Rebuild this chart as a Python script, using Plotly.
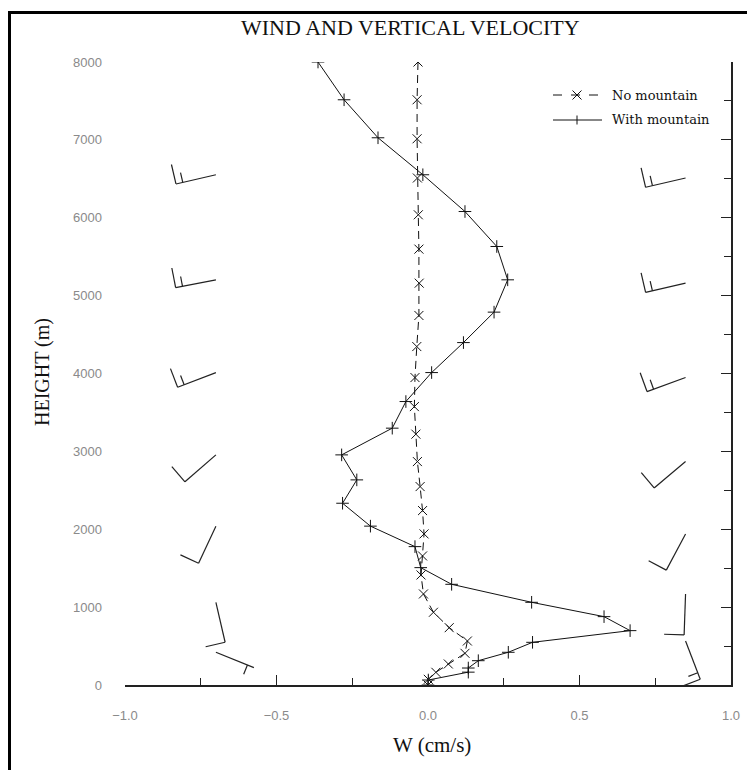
import math
import plotly.graph_objects as go

# ---------------- data ----------------
# With mountain: vertical velocity W (cm/s) vs height (m)
wm_height = [8000, 7515, 7027, 6552, 6080, 5631, 5203, 4788, 4397, 4012, 3640, 3298,
             2955, 2634, 2334, 2040, 1777, 1507, 1293, 1062, 878, 698, 548, 420, 312,
             218, 165, 64, 0]
wm_w = [-0.363, -0.277, -0.165, -0.017, 0.122, 0.227, 0.263, 0.218, 0.117, 0.012, -0.073, -0.118,
        -0.285, -0.235, -0.282, -0.190, -0.043, -0.024, 0.078, 0.342, 0.581, 0.667, 0.345, 0.265, 0.166,
        0.133, 0.133, 0.001, 0.0]

# No mountain
nm_height = [8000, 7515, 7014, 6510, 6038, 5597, 5160, 4745, 4346, 3948, 3575, 3221,
             2869, 2548, 2240, 1940, 1657, 1413, 1169, 934, 736, 565, 407, 270, 163, 73, 0]
nm_w = [-0.033, -0.036, -0.036, -0.035, -0.032, -0.030, -0.029, -0.030, -0.037, -0.043, -0.045, -0.040,
        -0.035, -0.026, -0.018, -0.013, -0.018, -0.023, -0.015, 0.018, 0.070, 0.130, 0.122, 0.067,
        0.026, 0.001, 0.0]

# Wind barbs (direction in degrees the wind blows from, speed in knots)
left_barb_height = [6552, 5203, 4012, 2955, 2040, 1062, 420]
left_barb_dir = [257, 259, 249, 229, 205, 167, 112]
left_barb_speed = [15, 15, 15, 10, 10, 10, 5]

right_barb_height = [6510, 5160, 3948, 2869, 1940, 1169, 565]
right_barb_dir = [257, 257, 250, 230, 208, 182, 159]
right_barb_speed = [15, 15, 15, 10, 10, 10, 15]

x_ticks = [-1.0, -0.5, 0.0, 0.5, 1.0]
y_ticks = [0, 1000, 2000, 3000, 4000, 5000, 6000, 7000, 8000]

legend_names = ["No mountain", "With mountain"]

# ---------------- layout geometry ----------------
W, H = 755, 770
OFF = 8                      # page body margin
ML, MR, MT, MB = 117, 32, 54, 93
PW, PH = W - ML - MR, H - MT - MB
XR = (-1.0, 1.0)
YR = (0, 8000)
PX_X = PW / (XR[1] - XR[0])   # px per unit of W
PX_Y = PH / (YR[1] - YR[0])   # px per metre


def pxp(xpage):
    return (xpage - OFF - ML) / PW


def pyp(ypage):
    return (H - MB - (ypage - OFF)) / PH


SHAFT, FULL, HALF, SPACING = 41, 20, 10, 7


def barb_segments(x0, y0, d, s):
    """Return x,y lists (with None separators) for a wind barb, built in pixel space."""
    r = math.radians(d)
    ux, uy = math.sin(r), math.cos(r)
    px_, py_ = uy, -ux
    xs, ys = [], []

    def add(ax, ay, bx, by):
        xs.extend([x0 + ax / PX_X, x0 + bx / PX_X, None])
        ys.extend([y0 + ay / PX_Y, y0 + by / PX_Y, None])

    add(0, 0, ux * SHAFT, uy * SHAFT)
    n_full = int(s // 10)
    half = (s % 10) >= 5
    for i in range(n_full):
        pos = SHAFT - i * SPACING
        sx, sy = ux * pos, uy * pos
        add(sx, sy, sx + px_ * FULL, sy + py_ * FULL)
    if half:
        i = n_full if n_full > 0 else 1
        pos = SHAFT - i * SPACING
        sx, sy = ux * pos, uy * pos
        add(sx, sy, sx + px_ * HALF, sy + py_ * HALF)
    return xs, ys


bx, by = [], []
for h, d, s in zip(left_barb_height, left_barb_dir, left_barb_speed):
    a, b = barb_segments(-0.70, h, d, s)
    bx += a
    by += b
rx, ry = [], []
for h, d, s in zip(right_barb_height, right_barb_dir, right_barb_speed):
    a, b = barb_segments(0.85, h, d, s)
    rx += a
    ry += b

INK = "#111"
fig = go.Figure()

fig.add_trace(go.Scatter(
    x=nm_w, y=nm_height, mode="lines+markers", name=legend_names[0],
    line=dict(color=INK, width=1, dash="8px,5px"),
    marker=dict(symbol="x-thin", size=9, line=dict(color=INK, width=1)),
    showlegend=False, hoverinfo="skip"))

fig.add_trace(go.Scatter(
    x=wm_w, y=wm_height, mode="lines+markers", name=legend_names[1],
    line=dict(color=INK, width=1),
    marker=dict(symbol="cross-thin", size=9, line=dict(color=INK, width=1)),
    showlegend=False, hoverinfo="skip"))

fig.add_trace(go.Scatter(x=bx, y=by, mode="lines", showlegend=False,
                         line=dict(color="#222", width=1.2), hoverinfo="skip"))
fig.add_trace(go.Scatter(x=rx, y=ry, mode="lines", showlegend=False, yaxis="y2",
                         line=dict(color="#222", width=1.2), hoverinfo="skip"))

axis_font = dict(family="Liberation Sans, Arial, sans-serif", size=13, color="#8a8a8a")

fig.update_layout(
    width=W, height=H,
    margin=dict(l=ML, r=MR, t=MT, b=MB),
    paper_bgcolor="white", plot_bgcolor="white",
    showlegend=False,
    xaxis=dict(range=list(XR), tickvals=x_ticks, tickformat=".1f",
               showline=True, linecolor="#222", linewidth=1.5,
               ticks="inside", ticklen=10, tickcolor="#222", tickwidth=1.2,
               minor=dict(dtick=0.25, ticks="inside", ticklen=7, tickcolor="#222", tickwidth=1.2),
               showgrid=False, zeroline=False, tickfont=axis_font, ticklabelstandoff=18),
    yaxis=dict(range=list(YR), tickvals=y_ticks, tickformat="d",
               showline=False, ticks="", showgrid=False, zeroline=False,
               tickfont=axis_font, ticklabelstandoff=22),
    yaxis2=dict(range=list(YR), overlaying="y", side="right", showline=True,
                linecolor="#222", linewidth=1.5, ticks="inside", ticklen=10,
                tickcolor="#222", tickwidth=1.2, dtick=1000, showticklabels=False,
                minor=dict(dtick=500, ticks="inside", ticklen=7, tickcolor="#222", tickwidth=1.2),
                showgrid=False, zeroline=False),
)

serif = "Liberation Serif, Times New Roman, serif"
fig.add_annotation(text="WIND AND VERTICAL VELOCITY", xref="paper", yref="paper",
                   x=pxp(410), y=pyp(28), showarrow=False,
                   xanchor="center", yanchor="middle",
                   font=dict(family=serif, size=22, color=INK))
fig.add_annotation(text="HEIGHT (m)", xref="paper", yref="paper",
                   x=pxp(42), y=pyp(372), showarrow=False, textangle=-90,
                   xanchor="center", yanchor="middle",
                   font=dict(family=serif, size=20, color=INK))
fig.add_annotation(text="W (cm/s)", xref="paper", yref="paper",
                   x=pxp(432), y=pyp(745), showarrow=False,
                   xanchor="center", yanchor="middle",
                   font=dict(family=serif, size=21, color=INK))

# ---- legend drawn by hand (long sample lines) ----
leg_font = dict(family="DejaVu Serif, serif", size=13, color=INK)
for k, (yy, dash) in enumerate([(95, "dash"), (120, "solid")]):
    fig.add_shape(type="line", xref="paper", yref="paper",
                  x0=pxp(553), x1=pxp(602), y0=pyp(yy), y1=pyp(yy),
                  line=dict(color=INK, width=1, dash=dash))
    fig.add_annotation(text=legend_names[k], xref="paper", yref="paper",
                       x=pxp(610), y=pyp(yy), showarrow=False, xanchor="left",
                       yanchor="middle", font=leg_font)
# legend marker glyphs
m = 4.5
fig.add_shape(type="line", xref="paper", yref="paper", x0=pxp(577 - m), x1=pxp(577 + m),
              y0=pyp(95 - m), y1=pyp(95 + m), line=dict(color=INK, width=1))
fig.add_shape(type="line", xref="paper", yref="paper", x0=pxp(577 - m), x1=pxp(577 + m),
              y0=pyp(95 + m), y1=pyp(95 - m), line=dict(color=INK, width=1))
fig.add_shape(type="line", xref="paper", yref="paper", x0=pxp(577), x1=pxp(577),
              y0=pyp(120 - m), y1=pyp(120 + m), line=dict(color=INK, width=1))

# outer frame
fig.add_shape(type="rect", xref="paper", yref="paper",
              x0=pxp(9.5), x1=pxp(750),
              y0=pyp(830), y1=pyp(12.5),
              line=dict(color="black", width=3), fillcolor="rgba(0,0,0,0)", layer="above")

fig.write_html("out.html")
